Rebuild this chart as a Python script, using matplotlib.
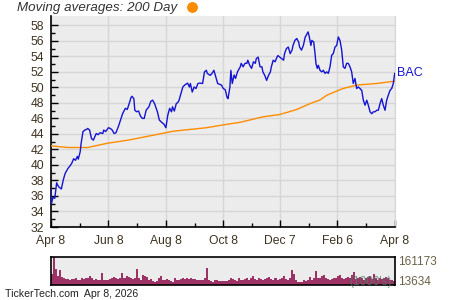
import numpy as np
import pandas as pd
import matplotlib
matplotlib.use('Agg')
import matplotlib.pyplot as plt
from matplotlib.lines import Line2D

plt.rcParams['font.family'] = ['Liberation Sans', 'DejaVu Sans']

# --- data (day offset from Apr 8 2025) ---
start = pd.Timestamp('2025-04-08')

price_days = [0, 0.5, 2, 4, 6, 8, 11, 13, 15, 18, 20, 22, 24, 26, 28, 29, 31, 32, 34, 36,
              38, 39, 41, 43, 45, 48, 50, 52, 55, 56, 58, 61, 63, 65, 67, 69, 72, 74, 76, 79,
              81, 83, 85, 86, 88, 89, 91, 93, 95, 97, 99, 101, 104, 106, 108, 110, 113, 115, 117, 120,
              122, 124, 126, 128, 129, 131, 133, 135, 136, 138, 140, 142, 145, 147, 148, 150, 152, 154, 156, 158,
              161, 163, 165, 166, 169, 171, 173, 175, 177, 180, 181, 183, 185, 187, 188, 190, 191, 192.5, 194.5, 196,
              198, 201, 202, 204, 206, 208, 209, 211, 213, 215, 217, 218, 220, 222, 224, 225, 227, 229, 231, 233,
              234, 236, 238, 240, 241, 243, 245, 247, 248, 250, 252, 254, 256, 257, 259, 261, 263, 264, 266, 268,
              270, 271, 273, 274, 276, 277, 279, 280.4, 281.4, 282.8, 283.9, 285.7, 287.5, 289.2, 291, 292.8, 294.5, 296.3, 298.1, 299.8,
              301.6, 303.4, 305.1, 306.9, 308.7, 310.4, 312.2, 314, 315.7, 317.5, 319.3, 321, 322.8, 324.6, 326.3, 328.2, 330, 331.7, 333.5, 335.3,
              337, 338.8, 340.6, 342.3, 344.1, 345.9, 347.6, 349.4, 351.2, 352.9, 354.7, 356.5, 358.2, 360, 361.8, 363.5, 365]
price_vals = [36.9, 35.0, 35.8, 35.7, 37.7, 37.2, 36.9, 38.05, 38.9, 39.55, 39.85, 40.2, 40.8, 40.6, 41.1, 40.75, 41.7, 42.8, 44.3, 44.5,
              44.6, 44.7, 44.5, 43.4, 43.2, 44.05, 43.9, 44.15, 44.05, 44.5, 44.3, 44.8, 44.7, 44.5, 44.05, 44.15, 45.1, 45.85, 46.6, 47.3,
              47.15, 47.9, 48.7, 48.85, 48.55, 47.05, 46.85, 46.95, 46.3, 46.0, 46.0, 47.05, 47.5, 48.2, 48.35, 47.9, 46.85, 45.8, 45.55, 45.25,
              44.8, 46.4, 47.3, 46.85, 47.5, 46.95, 47.9, 48.1, 48.35, 49.2, 50.05, 50.3, 50.55, 50.05, 50.5, 49.4, 50.05, 49.85, 50.5, 50.55,
              50.5, 52.0, 52.2, 51.8, 51.55, 51.8, 52.2, 51.35, 50.5, 50.35, 50.3, 49.85, 49.7, 48.7, 48.55, 50.05, 52.2, 50.5, 51.6, 51.15,
              52.0, 52.65, 53.1, 52.65, 53.1, 53.1, 53.5, 52.85, 52.45, 53.3, 53.1, 53.7, 53.9, 52.65, 52.65, 52.0, 51.55, 50.9, 51.55, 52.0,
              52.65, 53.5, 53.3, 53.9, 54.1, 53.9, 53.7, 53.5, 54.35, 55.0, 55.2, 54.35, 54.8, 55.4, 56.05, 56.3, 55.85, 55.2, 54.8, 55.4,
              56.5, 56.7, 57.15, 56.7, 55.4, 56.05, 55.85, 54.35, 53.05, 52.45, 52.85, 52.2, 52.0, 52.2, 51.8, 52.0, 51.8, 52.65, 54.15, 54.35,
              55.2, 55.4, 56.5, 56.05, 54.8, 52.65, 52.45, 53.1, 53.1, 52.65, 52.0, 50.5, 51.15, 49.85, 50.05, 49.85, 49.6, 48.35, 47.7, 48.35,
              47.7, 46.85, 46.6, 46.85, 46.85, 47.05, 47.05, 47.9, 48.55, 47.7, 47.05, 48.35, 49.0, 49.6, 49.85, 50.5, 51.8]

ma_days = [0, 18, 39, 60, 82, 103, 130, 165, 190, 201, 225, 243, 261, 275, 286, 293, 305, 310, 325, 346, 365]
ma_vals = [42.46, 42.25, 42.25, 42.8, 43.2, 43.7, 44.35, 44.8, 45.3, 45.5, 46.2, 46.5, 47.15, 47.9, 48.4, 49.0, 49.6, 49.85, 50.3, 50.5, 50.8]

# daily volume, thousands of shares
volume = [61850, 161173, 89960, 52470, 84330, 46850, 39360, 33730, 33730, 31860, 37480, 35610, 39360, 28110, 31860, 39360,
          33730, 43100, 43100, 50600, 39360, 31860, 37480, 31860, 28110, 67470, 31860, 29990, 29990, 33730, 39360, 46850,
          39360, 35610, 43100, 67470, 43100, 39360, 54350, 46850, 39360, 35610, 39360, 89960, 43100, 31860, 58100, 52470,
          46850, 31860, 37480, 24360, 18740, 24360, 39360, 50600, 31860, 31860, 33730, 31860, 24360, 16870, 43100, 28110,
          31860, 35610, 39360, 33730, 43100, 35610, 39360, 33730, 33730, 28110, 28110, 28110, 31860, 39360, 99330, 28110,
          24360, 20620, 28110, 31860, 24360, 24360, 24360, 24360,
          24360, 28110, 43100, 33730, 28110, 24360, 39360, 31860, 31860, 35610, 39360, 31860, 43100, 52470, 35610, 31860,
          39360, 33730, 31860, 35610, 43100, 46850, 35610, 31860, 39360, 43100, 31860, 35610, 39360, 50600, 33730, 31860,
          39360, 86210, 61850, 28110, 16870, 18740, 20620, 28110, 24360, 31860, 46850, 31860, 39360, 80590, 43100, 39360,
          54350, 58100, 43100, 33730, 31860, 35610, 39360, 39360, 50600, 58100, 43100, 35610, 39360, 46850, 39360, 58100,
          73090, 33730, 43100, 46850, 39360, 31860, 43100, 46850, 50600, 35610, 65590, 39360, 31860, 43100, 35610, 39360,
          46850, 43100, 31860, 31860, 24360]
vol_high_label = 161173
vol_low_label = 13634

tick_dates = ['2025-04-08', '2025-06-08', '2025-08-08', '2025-10-08', '2025-12-07', '2026-02-06', '2026-04-08']
tick_labels = ['Apr 8', 'Jun 8', 'Aug 8', 'Oct 8', 'Dec 7', 'Feb 6', 'Apr 8']
y_ticks = list(range(32, 59, 2))

label_col = '#3d3321'
bg = '#ececec'
grid_col = '#d6d6d6'

fig = plt.figure(figsize=(4.5, 3), dpi=100)
ax = fig.add_axes([51 / 450, 1 - 227 / 300, 343.7 / 450, 211 / 300])
ax.set_facecolor(bg)

tick_pos = [(pd.Timestamp(d) - start).days for d in tick_dates]
ax.plot(ma_days, ma_vals, color='#ff8c00', linewidth=1.0, zorder=3)
ax.plot(price_days, price_vals, color='#1414d2', linewidth=1.0, zorder=4)

ax.set_xlim(tick_pos[0], tick_pos[-1])
ax.set_ylim(32, 59.2)
ax.set_xticks(tick_pos)
ax.set_xticklabels(tick_labels)
ax.set_xticks([(a + b) / 2 for a, b in zip(tick_pos[:-1], tick_pos[1:])], minor=True)
ax.set_yticks(y_ticks)
ax.set_yticks(list(range(33, 59, 2)), minor=True)
ax.grid(True, which='major', color=grid_col, linewidth=1.0)
ax.set_axisbelow(True)
ax.tick_params(which='both', direction='in', colors='black', labelcolor=label_col, labelsize=8.7)
ax.tick_params(which='major', length=5, width=1)
ax.tick_params(which='minor', length=3, width=1)
ax.tick_params(axis='y', pad=5)
ax.tick_params(axis='x', pad=6)
for s in ['left', 'bottom']:
    ax.spines[s].set_color('black')
    ax.spines[s].set_linewidth(1.2)
ax.spines['top'].set_visible(False)
ax.spines['right'].set_color(grid_col)

ax.text(1.008, (price_vals[-1] - 32) / 27.2, 'BAC', transform=ax.transAxes, color='#1414d2',
        fontsize=9, va='center', ha='left')

# title with orange dot
fig.text(17 / 450, 1 - 8 / 300, 'Moving averages: 200 Day', style='italic', color='#333333',
         fontsize=9.6, va='center', ha='left')
fig.add_artist(Line2D([191.5 / 450], [1 - 7 / 300], marker='o', markersize=6.8, color='#ff8c00',
                      transform=fig.transFigure))

# volume panel
vax = fig.add_axes([51 / 450, 1 - 285.3 / 300, 343.7 / 450, 28.8 / 300])
vax.set_facecolor(bg)
vax.bar(np.arange(len(volume)), volume, width=1.0, color='#9c3265', linewidth=0, align='edge')
vax.set_xlim(0, len(volume))
vax.set_ylim(0, vol_high_label)
vax.set_xticks([])
vax.set_yticks([])
for s in vax.spines.values():
    s.set_linewidth(1.2)
    s.set_color('black')
vax.text(1.01, 0.82, str(vol_high_label), transform=vax.transAxes, color='#6b6148',
         fontsize=8.5, va='center', ha='left')
vax.text(1.01, 0.12, str(vol_low_label), transform=vax.transAxes, color='#6b6148',
         fontsize=8.5, va='center', ha='left')
vax.text(0.99, 0.12, "(1000's)", transform=vax.transAxes, color='#4f7a66', alpha=0.8,
         fontsize=8.5, va='center', ha='right')

fig.text(5 / 450, 1 - 294 / 300, 'TickerTech.com  Apr 8, 2026', color='#222222',
         fontsize=7.6, va='center', ha='left')

fig.savefig('out.png', dpi=100)
